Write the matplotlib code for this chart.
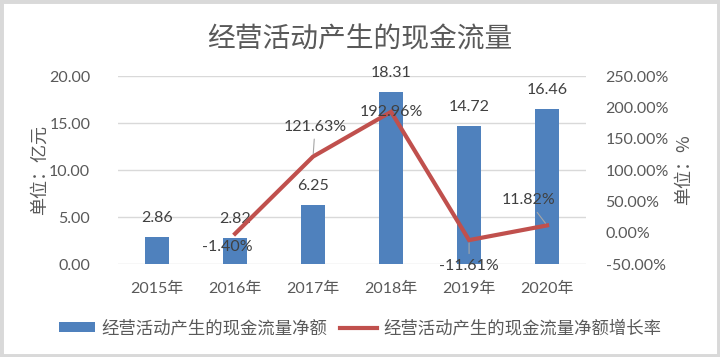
import numpy as np
import matplotlib
matplotlib.use("Agg")
import matplotlib.pyplot as plt
from matplotlib.patches import Patch, Rectangle
from matplotlib.lines import Line2D
from matplotlib.ticker import FuncFormatter, MultipleLocator

plt.rcParams['font.family'] = ['Lato', 'Noto Sans CJK SC', 'DejaVu Sans']

# data
years = ['2015年', '2016年', '2017年', '2018年', '2019年', '2020年']
net_cash = [2.86, 2.82, 6.25, 18.31, 14.72, 16.46]
growth = [np.nan, -1.40, 121.63, 192.96, -11.61, 11.82]

title = '经营活动产生的现金流量'
bar_name = '经营活动产生的现金流量净额'
line_name = '经营活动产生的现金流量净额增长率'

# label offsets for the growth line (pixels), and whether a leader line is drawn
growth_offsets = [None, (-8, -13), (2, 30), (0, 0), (0, -26), (-19, 25)]
growth_leader = [False, False, True, False, True, True]

BLUE = '#4F81BD'
RED = '#C0504D'
GRID = '#D9D9D9'
TICK = '#595959'
LABEL = '#404040'

fig = plt.figure(figsize=(7.2, 3.57), dpi=100)
ax = fig.add_axes([0.164, 0.26, 0.650, 0.527])
ax2 = ax.twinx()

x = np.arange(len(years))
ax.bar(x, net_cash, width=0.31, color=BLUE, zorder=2)
ax.set_xlim(-0.5, len(years) - 0.5)
ax.set_ylim(0, 20)
ax.yaxis.set_major_locator(MultipleLocator(5))
ax.yaxis.set_major_formatter(FuncFormatter(lambda v, p: f'{v:.2f}'))
ax.grid(axis='y', color=GRID, lw=1, zorder=0)
ax.set_axisbelow(True)
ax.set_xticks(x)
ax.set_xticklabels(years)

for a in (ax, ax2):
    for s in a.spines.values():
        s.set_visible(False)
    a.tick_params(length=0, colors=TICK, labelsize=11.5)
ax.tick_params(axis='y', pad=20)
ax.tick_params(axis='x', pad=13)
ax2.tick_params(axis='y', pad=14)

ax2.plot(x, growth, color=RED, lw=3, solid_joinstyle='miter', zorder=3)
ax2.set_ylim(-50, 250)
ax2.yaxis.set_major_locator(MultipleLocator(50))
ax2.yaxis.set_major_formatter(FuncFormatter(lambda v, p: f'{v:.2f}%'))

ax.set_ylabel('单位：亿元', color=TICK, fontsize=13, family=['Noto Sans CJK SC'], labelpad=0)
ax2.set_ylabel('单位：%', color=TICK, fontsize=13, family=['Noto Sans CJK SC'],
               rotation=90, labelpad=4)

for xi, v in zip(x, net_cash):
    ax.annotate(f'{v:.2f}', (xi, v), xytext=(0, 19), textcoords='offset pixels',
                ha='center', va='center', fontsize=11.5, color=LABEL, zorder=4)

for xi, v, off, lead in zip(x, growth, growth_offsets, growth_leader):
    if np.isnan(v):
        continue
    props = dict(arrowstyle='-', color='#A6A6A6', lw=0.8, shrinkA=2, shrinkB=2) if lead else None
    ax2.annotate(f'{v:.2f}%', (xi, v), xytext=off, textcoords='offset pixels',
                 ha='center', va='center', fontsize=11.5, color=LABEL,
                 arrowprops=props, zorder=5)

fig.text(0.5, 0.89, title, ha='center', va='center', fontsize=20, color=TICK,
         family=['Noto Sans CJK SC'])

handles = [Patch(facecolor=BLUE, edgecolor='none'),
           Line2D([0], [0], color=RED, lw=3)]
fig.legend(handles, [bar_name, line_name], loc='center', bbox_to_anchor=(0.5, 0.081),
           ncol=2, frameon=False, handlelength=2.1, handleheight=0.45,
           handletextpad=0.35, columnspacing=0.75,
           prop={'family': ['Noto Sans CJK SC'], 'size': 12.5}, labelcolor=TICK)

fig.patches.append(Rectangle((0, 0), 1, 1, transform=fig.transFigure, fill=False,
                             edgecolor=GRID, lw=5, zorder=10))

fig.savefig('out.png', dpi=100, facecolor='white')
